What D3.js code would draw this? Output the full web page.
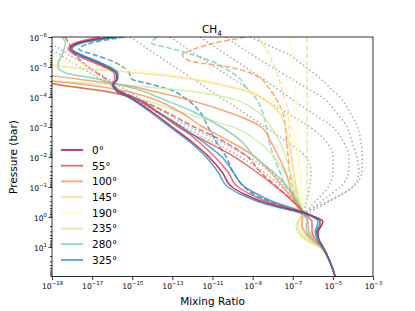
<!DOCTYPE html>
<html><head><meta charset="utf-8">
<script src="https://cdn.jsdelivr.net/npm/d3@7"></script>
<style>body{margin:0;background:#fff}text{font-family:"DejaVu Sans",sans-serif;fill:#000}</style>
</head><body><svg id="c" width="415" height="311"></svg>
<script>
// pressure levels (bar)
const pressure = [1e-6,1.58e-6,2.51e-6,3.98e-6,6.31e-6,1e-5,1.58e-5,2.51e-5,3.98e-5,6.31e-5,1e-4,3.16e-4,1e-3,3.16e-3,0.01,0.0316,0.1,0.178,0.316,0.501,0.708,1,1.41,2,3.16,5.62,10,31.6,95];
const longitudes = ["0°","55°","100°","145°","190°","235°","280°","325°"];
const xTicks = [1e-19,1e-17,1e-15,1e-13,1e-11,1e-9,1e-7,1e-5,1e-3];
const yTicks = [1e-6,1e-5,1e-4,1e-3,1e-2,1e-1,1,10];

// solid profiles (mixing ratio at each pressure level)
const solid0   = [1e-16,2e-18,7.9e-19,2.5e-18,1.25e-17,5.5e-17,1.55e-16,1.74e-16,1.1e-16,1.74e-16,6.9e-16,9.8e-15,9.7e-14,9.5e-13,6.7e-12,3e-11,9.4e-11,4.2e-10,3.3e-9,3.7e-8,2.9e-7,1.3e-6,3.2e-6,2.6e-6,1.8e-6,2e-6,3.2e-6,7.2e-6,1.3e-5];
const solid55  = [2.5e-17,1.4e-18,6.3e-19,1.56e-18,7.8e-18,3.9e-17,1.23e-16,1.38e-16,1e-16,1.95e-16,9.8e-16,1.7e-14,2.4e-13,2.1e-12,1.33e-11,5.9e-11,1.9e-10,8.4e-10,5.9e-9,5.8e-8,3.7e-7,1.15e-6,2.3e-6,2.3e-6,1.6e-6,2e-6,3.2e-6,7.2e-6,1.3e-5];
const solid55b = [1e-21,1e-21,1e-21,1e-21,1e-21,1e-21,1e-21,1e-21,1e-20,2.5e-19,4.1e-17,8.3e-16,1.9e-14,2e-13,5.5e-12,1.29e-10,1.56e-9,1.48e-8,4.2e-8,1.07e-7,2.3e-7,3.7e-7,5.8e-7,9.1e-7,9.1e-7,9.1e-7,1.45e-6,2.9e-6,7.2e-6,1.3e-5].slice(1);
const solid100 = [1e-21,1e-21,1e-21,1e-21,1e-21,1e-21,1e-20,1.86e-18,4.1e-16,9.5e-15,1.8e-13,5.7e-11,2.7e-9,8.3e-9,2e-8,4.4e-8,7.4e-8,9.3e-8,1.3e-7,1.8e-7,2.4e-7,2.9e-7,2.9e-7,2.9e-7,4.1e-7,8.2e-7,2.6e-6,7.2e-6,1.3e-5];
const solid100b= [1e-21,1e-21,1e-21,1e-21,1e-21,1e-21,1e-21,1e-20,6.2e-18,4.4e-16,5.8e-15,2.4e-13,3.3e-12,8.3e-11,1.35e-9,7.5e-9,3.3e-8,6.8e-8,1.4e-7,2.4e-7,3.3e-7,4.6e-7,5.8e-7,5.8e-7,6.5e-7,1.15e-6,2.9e-6,7.2e-6,1.3e-5];
const solid145 = [1e-21,1e-21,1e-21,1e-21,1e-20,5e-19,1.95e-15,8.5e-13,2.65e-11,4.7e-10,2.35e-9,1.95e-8,4.3e-8,6.1e-8,8.4e-8,1.12e-7,1.53e-7,1.8e-7,2.15e-7,2.8e-7,3.2e-7,2.6e-7,2.06e-7,1.8e-7,2.3e-7,5.2e-7,2.3e-6,7.2e-6,1.3e-5];
const solid190 = [1e-21,1e-21,1e-21,1e-20,2.5e-19,4.9e-17,2.2e-14,1.9e-12,5.9e-11,7.5e-10,4.2e-9,3.3e-8,8.2e-8,1.3e-7,1.74e-7,2.2e-7,2.8e-7,2.9e-7,3e-7,3.3e-7,3.3e-7,2.6e-7,1.8e-7,1.6e-7,2.06e-7,4.6e-7,2.3e-6,7.2e-6,1.3e-5];
const solid235 = [1e-21,1e-21,1e-21,1e-21,1e-21,1e-21,1e-21,1e-20,2.45e-16,6.4e-13,4.2e-11,1.8e-9,8.3e-9,2.3e-8,4.5e-8,7.6e-8,1.25e-7,1.6e-7,2.1e-7,2.7e-7,3e-7,2.6e-7,1.8e-7,1.45e-7,1.8e-7,4.1e-7,2e-6,7.2e-6,1.3e-5];
const solid235b= [1e-21,1e-21,1e-21,1e-21,1e-21,1e-21,1e-21,1e-20,2.45e-19,2.65e-17,1.06e-15,2.4e-13,1.06e-10,2e-9,1.16e-8,3.9e-8,9.9e-8,1.36e-7,1.86e-7,2.4e-7,3.3e-7,3.7e-7,2.9e-7,2.6e-7,3.3e-7,7.3e-7,2.6e-6,7.2e-6,1.3e-5];
const solid280 = [3.15e-19,4.7e-19,4e-19,3.15e-19,2.2e-19,2e-19,5e-19,1.9e-17,2.7e-16,3.3e-15,1.8e-14,1.16e-12,2.8e-11,3e-10,1.25e-9,1.06e-8,5.5e-8,1.06e-7,1.77e-7,2.6e-7,3.3e-7,4.5e-7,5.2e-7,4.6e-7,5.2e-7,1.02e-6,2.9e-6,7.2e-6,1.3e-5];
const solid325b= [1.38e-16,2.5e-18,1e-18,3.1e-18,1.75e-17,7.8e-17,1.95e-16,1.74e-16,1.23e-16,2.2e-16,1.1e-15,1.9e-14,3e-13,3.4e-12,3e-11,1.06e-10,4.2e-10,1.86e-9,1.16e-8,9.2e-8,4.1e-7,1.02e-6,1.8e-6,1.6e-6,1.3e-6,1.8e-6,3.2e-6,7.2e-6,1.3e-5];
const solid325 = [2.45e-16,3.1e-18,8.9e-19,2.5e-18,1.4e-17,6.2e-17,1.74e-16,1.95e-16,1.1e-16,1.55e-16,6.1e-16,7.7e-15,7.6e-14,7.5e-13,4.8e-12,1.9e-11,5.9e-11,2.65e-10,2.1e-9,2.6e-8,2.06e-7,1.02e-6,2.3e-6,2e-6,1.45e-6,2e-6,3.2e-6,7.2e-6,1.3e-5];

// dashed profiles (down to 1 bar)
const dashed55  = [4.45e-19,6.8e-19,1e-18,1.4e-18,2.8e-18,6.1e-18,1.66e-17,4.7e-17,1.16e-16,2.6e-16,1.2e-15,4.8e-14,1.23e-12,4.15e-11,5.7e-10,2.4e-9,1.7e-8,4.5e-8,1.2e-7,2.45e-7,3.2e-7,3.7e-7];
const dashed100 = [4.2e-10,1.33e-11,1.26e-12,3.2e-13,7.5e-13,6.6e-11,7.5e-10,2.8e-9,4.9e-9,8.5e-9,1.3e-8,3.1e-8,4.3e-8,4.9e-8,5.9e-8,7e-8,9.6e-8,1.15e-7,1.5e-7,2.2e-7,3e-7,3.7e-7];
const dashed145 = [1.86e-9,2.9e-9,4.7e-9,7.3e-9,9.2e-9,1.23e-8,1.64e-8,2e-8,2.5e-8,3e-8,3.65e-8,6.2e-8,6.6e-8,7.8e-8,9e-8,1.07e-7,1.4e-7,1.6e-7,2e-7,2.6e-7,3e-7,3.7e-7];
const dashed190 = [7.3e-8,7.8e-8,8.3e-8,8.9e-8,9.4e-8,1e-7,1.1e-7,1.19e-7,1.29e-7,1.4e-7,1.5e-7,1.65e-7,1.77e-7,1.9e-7,2.1e-7,2.25e-7,2.5e-7,2.6e-7,2.7e-7,2.8e-7,2.9e-7,3.3e-7];
const dashed235 = [5.2e-7,5.2e-7,5.2e-7,5.2e-7,5.2e-7,5.2e-7,5.2e-7,5.2e-7,5.2e-7,5.2e-7,5.2e-7,5.2e-7,5.2e-7,5.2e-7,5.2e-7,5.2e-7,5.2e-7,5.1e-7,5e-7,4.6e-7,4.1e-7,3.7e-7];
const dashed280 = [1.7e-14,9.2e-15,1.07e-13,1.12e-12,8.5e-12,3.3e-11,9.8e-11,2.4e-10,3.8e-10,6.8e-10,1.29e-9,3.1e-9,4.9e-9,6.7e-9,1.15e-8,2.3e-8,4.7e-8,9.2e-8,1.5e-7,2.2e-7,3e-7,3.7e-7];
const dashed325 = [4.35e-16,9.1e-18,2.2e-18,1.38e-17,9.8e-17,3.5e-16,7e-16,9.4e-16,1.2e-14,1.12e-13,3.6e-13,2.4e-12,6e-12,1.56e-11,4.9e-11,1.06e-10,3.8e-10,1.2e-9,8.4e-9,6e-8,2.9e-7,4.1e-7];

// dotted grey profiles (down to 0.7 bar)
const dottedA = [4.2e-11,1.2e-10,3.45e-10,9.9e-10,2.85e-9,8.9e-9,2.75e-8,8.6e-8,2.75e-7,8.9e-7,2.85e-6,1.43e-5,5.1e-5,9.2e-5,1.58e-4,1.97e-4,9.8e-5,2.4e-5,4.9e-6,1.16e-6,4.6e-7];
const dottedB = [2.4e-12,6.7e-12,1.9e-11,5.3e-11,1.5e-10,4.2e-10,1.17e-9,3.3e-9,8.8e-9,2.35e-8,6.3e-8,7.6e-7,9.7e-6,3.45e-5,6.3e-5,6e-5,2.3e-5,7.5e-6,2.45e-6,9.7e-7,4.6e-7];
const dottedC = [7.6e-14,2.1e-13,6e-13,1.7e-12,4.8e-12,1.33e-11,3.75e-11,1.06e-10,3e-10,8.4e-10,2.35e-9,4.1e-8,7.3e-7,4.9e-6,1.02e-5,1e-5,6e-6,2.85e-6,1.27e-6,6.8e-7,4.6e-7];
const dottedD = [7.7e-16,2.2e-15,6.1e-15,1.7e-14,4.8e-14,1.35e-13,3.8e-13,1.07e-12,3e-12,8.5e-12,2.4e-11,3.3e-10,4.2e-9,5.1e-8,4.45e-7,8.1e-7,6.9e-7,5.9e-7,4.6e-7,3.8e-7,3.7e-7];
const dottedE = [2.8e-20,8.3e-20,2.5e-19,7.5e-19,2.26e-18,6.8e-18,2.06e-17,6.4e-17,2e-16,6.3e-16,2e-15,3.8e-14,7.5e-13,2.56e-11,6.1e-10,8.3e-9,4.6e-8,1.04e-7,1.8e-7,2.9e-7,3.7e-7];
const dottedF = [1e-20,2.5e-20,8.2e-20,2.6e-19,8.1e-19,2.5e-18,7.8e-18,2.5e-17,7.8e-17,2.45e-16,7.7e-16,1.55e-14,3.66e-13,1.04e-11,2.5e-10,3.45e-9,2.7e-8,6.4e-8,1.35e-7,2.4e-7,3.4e-7];
const dottedG = [7.5e-10,3.4e-9,1.58e-8,7.3e-8,1.8e-7,4.45e-7,1.08e-6,2.56e-6,5.3e-6,1.08e-5,2.23e-5,7e-5,1.7e-4,2.5e-4,2.9e-4,2.8e-4,9.9e-5,2.9e-5,5.9e-6,1.7e-6,6.3e-7];

const colors = ["#9e0142","#de4b4c","#f99254","#fed985","#fbfdb9","#cdeb9d","#7acaa5","#3288bd"];

const svg = d3.select("#c");
const L=52,R=373,T=37,B=276.5;
const x = d3.scaleLog().domain([1e-19,1e-3]).range([L,R]);
const y = d3.scaleLog().domain([1e-6,96]).range([T,B]);

svg.append("defs").append("clipPath").attr("id","clip").append("rect")
  .attr("x",L).attr("y",T).attr("width",R-L).attr("height",B-T);
const g = svg.append("g").attr("clip-path","url(#clip)");

const line = d3.line().defined(d=>d[1]!=null).x(d=>x(d[1])).y(d=>y(d[0])).curve(d3.curveMonotoneY);
function draw(vals, color, dash, op){
  g.append("path").datum(pressure.slice(0,vals.length).map((p,i)=>[p,vals[i]]))
   .attr("d",line).attr("fill","none").attr("stroke",color).attr("stroke-width",1.5)
   .attr("stroke-opacity",op).attr("stroke-dasharray",dash).attr("stroke-linejoin","round");
}
const dot="1.5,2.5", dsh="5.5,2.4";
[dottedA,dottedB,dottedC,dottedD,dottedE,dottedF,dottedG].forEach(v=>draw(v,"#999",dot,0.8));
[[dashed55,1],[dashed100,2],[dashed145,3],[dashed190,4],[dashed235,5],[dashed280,6],[dashed325,7]]
  .forEach(([v,c])=>draw(v,colors[c],dsh,0.8));
[[solid190,4],[solid145,3],[solid235,5],[solid235b,5],[solid100,2],[solid100b,2],[solid280,6],[solid55b,1],
 [solid325b,7],[solid55,1],[solid0,0],[solid325,7]].forEach(([v,c])=>draw(v,colors[c],null,0.8));

// axes
function fmt(sel){
  sel.each(function(d){
    const t=d3.select(this); const e=Math.round(Math.log10(d));
    t.text(null);
    t.append("tspan").text("10");
    t.append("tspan").attr("dy",-3.6).attr("font-size",5.4).text(e<0?"\u2212"+(-e):String(e));
  });
}
const xa = svg.append("g").attr("transform",`translate(0,${B})`)
  .call(d3.axisBottom(x).tickValues(xTicks).tickSize(3.5).tickFormat(()=>""));
xa.select(".domain").remove();
xa.selectAll(".tick text").attr("y",12.5).attr("dy",null).attr("font-size",7.6).call(fmt);

const minor=[]; for(let e=-6;e<=1;e++) for(let k=2;k<=9;k++){const v=k*Math.pow(10,e); if(v<=96) minor.push(v);}
const ym = svg.append("g").attr("transform",`translate(${L},0)`)
  .call(d3.axisLeft(y).tickValues(minor).tickSize(2).tickFormat(()=>""));
ym.select(".domain").remove();
const ya = svg.append("g").attr("transform",`translate(${L},0)`)
  .call(d3.axisLeft(y).tickValues(yTicks).tickSize(3.5).tickFormat(()=>""));
ya.select(".domain").remove();
ya.selectAll(".tick text").attr("x",-5).attr("dy","0.45em").attr("font-size",7.6).call(fmt);
svg.selectAll(".tick line").attr("stroke","#000").attr("stroke-width",0.8);

svg.append("rect").attr("x",L).attr("y",T).attr("width",R-L).attr("height",B-T)
  .attr("fill","none").attr("stroke","#000").attr("stroke-width",0.8);

// title and labels
const tt = svg.append("text").attr("x",212).attr("y",33).attr("text-anchor","middle").attr("font-size",10.5);
tt.append("tspan").text("CH");
tt.append("tspan").attr("dy",2.5).attr("font-size",7.4).text("4");
svg.append("text").attr("x",212.5).attr("y",305).attr("text-anchor","middle").attr("font-size",10.5).text("Mixing Ratio");
svg.append("text").attr("transform","translate(17,157) rotate(-90)").attr("text-anchor","middle").attr("font-size",10.5).text("Pressure (bar)");

// legend
const lg = svg.append("g");
longitudes.forEach((lab,i)=>{
  const yy = 150 + i*15.7;
  lg.append("line").attr("x1",61).attr("x2",83).attr("y1",yy).attr("y2",yy)
    .attr("stroke",colors[i]).attr("stroke-width",1.8).attr("stroke-opacity",0.8);
  lg.append("text").attr("x",92).attr("y",yy+3.8).attr("font-size",10.5).text(lab);
});
</script></body></html>
